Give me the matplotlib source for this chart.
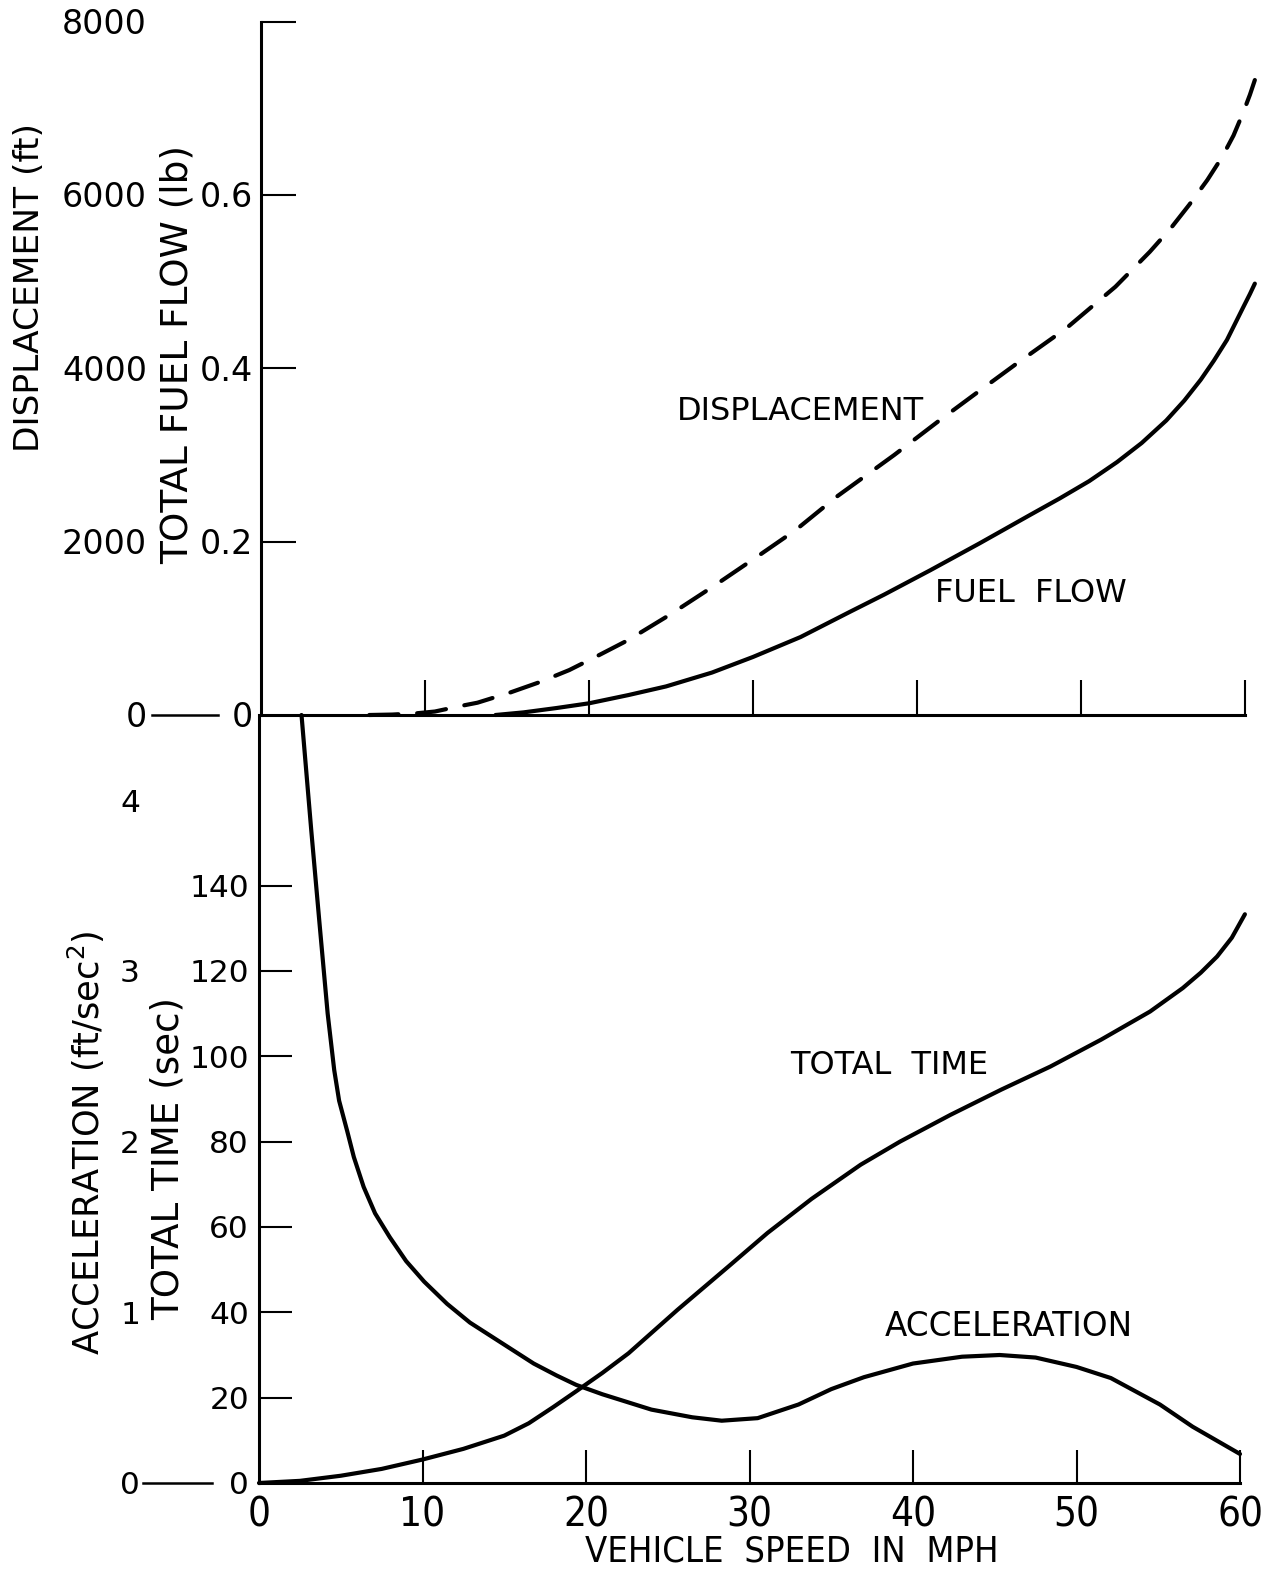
import matplotlib
matplotlib.use("Agg")
import matplotlib.pyplot as plt
from matplotlib import font_manager
from matplotlib.transforms import blended_transform_factory, offset_copy
from matplotlib.lines import Line2D

# ---------------- data ----------------
speed_ticks = [0, 10, 20, 30, 40, 50, 60]
speed_labels = ["0", "10", "20", "30", "40", "50", "60"]

disp_ticks = [0, 2000, 4000, 6000, 8000]
disp_labels = ["0", "2000", "4000", "6000", "8000"]
fuel_ticks = [0, 0.2, 0.4, 0.6]
fuel_labels = ["0", "0.2", "0.4", "0.6"]
time_ticks = [0, 20, 40, 60, 80, 100, 120, 140]
time_labels = ["0", "20", "40", "60", "80", "100", "120", "140"]
accel_ticks = [0, 1, 2, 3, 4]
accel_labels = ["0", "1", "2", "3", "4"]

# displacement (ft) vs vehicle speed (mph)
disp_speed = [6.6, 8.0, 9.5, 10.6, 12.2, 13.2, 15.2, 17.0, 18.8, 20.6, 22.4, 24.9,
              27.7, 30.4, 32.6, 35.1, 38.6, 41.4, 43.6, 46.1, 49.1, 52.1, 54.2,
              55.5, 56.6, 57.7, 58.6, 59.3, 59.9, 60.3, 60.6]
disp_ft = [0, 5, 20, 40, 105, 142, 260, 380, 519, 690, 866, 1154,
           1500, 1847, 2135, 2520, 3000, 3405, 3713, 4060, 4464, 4944, 5348,
           5625, 5890, 6175, 6440, 6690, 6960, 7160, 7330]

# total fuel flow (lb)
fuel_speed = [14.3, 16.0, 18.0, 20.0, 22.4, 24.7, 27.5, 30.0, 32.9, 35.9, 38.0,
              40.8, 43.8, 46.9, 48.7, 50.5, 52.2, 53.7, 55.2, 56.3, 57.3, 58.1,
              58.9, 59.4, 59.9, 60.3, 60.6]
fuel_lb = [0.0, 0.003, 0.008, 0.0135, 0.023, 0.033, 0.049, 0.067, 0.090, 0.119,
           0.139, 0.167, 0.198, 0.231, 0.250, 0.270, 0.292, 0.314, 0.340, 0.363,
           0.387, 0.409, 0.433, 0.452, 0.471, 0.486, 0.498]

# total time (sec)
time_speed = [0, 2.5, 5, 7.5, 10, 12.5, 15, 16.5, 18, 19.4, 21, 22.6, 25.6, 28.7,
              31.1, 33.8, 36.8, 39.2, 42.3, 45.4, 48.4, 51.5, 54.5, 56.5, 57.6,
              58.6, 59.5, 60.3]
time_sec = [0, 0.5, 1.7, 3.3, 5.5, 8.0, 11.1, 14.0, 17.8, 21.5, 25.8, 30.4, 40.6,
            50.7, 58.6, 66.6, 74.6, 80.0, 86.3, 92.2, 97.6, 103.9, 110.5, 116.0,
            119.6, 123.4, 127.8, 133.3]

# acceleration (ft/sec^2)
accel_speed = [2.6, 3.2, 3.7, 4.2, 4.6, 4.9, 5.4, 5.8, 6.4, 7.1, 8.0, 9.0, 10.1,
               11.5, 12.9, 14.2, 15.5, 16.8, 18.2, 19.4, 21.0, 24.0, 26.5, 28.3,
               30.5, 33.0, 35.0, 37.0, 40.0, 43.0, 45.3, 47.5, 50.0, 52.1, 55.1,
               57.1, 60.0]
accel_fps2 = [4.5, 3.82, 3.28, 2.75, 2.42, 2.24, 2.06, 1.91, 1.735, 1.58, 1.44,
              1.30, 1.18, 1.05, 0.94, 0.86, 0.78, 0.70, 0.63, 0.575, 0.52, 0.43,
              0.385, 0.365, 0.38, 0.46, 0.55, 0.62, 0.70, 0.74, 0.75, 0.735, 0.68,
              0.615, 0.46, 0.33, 0.17]

# ---------------- fonts ----------------
plt.rcParams["font.family"] = ["DejaVu Sans"]
plt.rcParams["mathtext.fontset"] = "dejavusans"

NARROW_KW = {"fontfamily": "DejaVu Sans"}
_fonts = font_manager.fontManager.ttflist
if any(f.name == "DejaVu Sans" and f.stretch == "condensed" for f in _fonts):
    NARROW_KW = {"fontfamily": "DejaVu Sans", "fontstretch": "condensed"}
    NARROW = True
elif any(f.name == "Liberation Sans Narrow" for f in _fonts):
    NARROW_KW = {"fontfamily": "Liberation Sans Narrow"}
    NARROW = True
else:
    NARROW = False

W, H = 1279, 1575
INK = "black"
CAP = 0.729 * 100 / 72  # cap height in pixels per point of font size


def fx(x):
    return x / W


def fy(y):
    return 1 - y / H


fig = plt.figure(figsize=(W / 100, H / 100), dpi=100)
fig.patch.set_facecolor("white")


def label(x, yc, s, size, **kw):
    """Text whose capitals are centred on pixel row yc."""
    rot = kw.pop("rotation", 0)
    if rot:
        fig.text(fx(x), fy(yc), s, rotation=rot, ha="center", va="center",
                 fontsize=size, rotation_mode="anchor", **kw)
    else:
        fig.text(fx(x), fy(yc + 0.5 * CAP * size), s, va="baseline",
                 fontsize=size, **kw)


def value_labels(trans, xpix, values, texts, size, ha):
    tr = offset_copy(trans, fig=fig, y=-0.5 * 0.729 * size, units="points")
    for v, s in zip(values, texts):
        fig.text(fx(xpix), v, s, transform=tr, ha=ha, va="baseline", fontsize=size)


# ---------------- upper panel: displacement / fuel flow ----------------
top_x0, top_scale, xmax = 261, 16.4, 61.5
ax = fig.add_axes([fx(top_x0), fy(715), xmax * top_scale / W, (715 - 22) / H])
ax.set_xlim(0, xmax)
ax.set_ylim(0, 8000)
ax.patch.set_alpha(0)
for s in ("top", "right"):
    ax.spines[s].set_visible(False)
ax.spines["left"].set_bounds(0, 8000)
ax.spines["bottom"].set_bounds(0, 60)
for s in ("left", "bottom"):
    ax.spines[s].set_linewidth(2.2)
ax.set_xticks(speed_ticks[1:])
ax.set_yticks(disp_ticks[1:])
ax.tick_params(axis="both", direction="in", length=25, width=1.5,
               labelbottom=False, labelleft=False)

ax_f = ax.twinx()
ax_f.set_ylim(0, 0.8)
ax_f.set_xlim(0, xmax)
for s in ax_f.spines.values():
    s.set_visible(False)
ax_f.set_yticks([])

ax.plot(disp_speed, disp_ft, color=INK, lw=3.0, linestyle=(0, (7, 4.5)),
        dash_capstyle="round", clip_on=False)
ax_f.plot(fuel_speed, fuel_lb, color=INK, lw=3.0, solid_capstyle="round",
          solid_joinstyle="round", clip_on=False)

tr_d = blended_transform_factory(fig.transFigure, ax.transData)
tr_f = blended_transform_factory(fig.transFigure, ax_f.transData)
value_labels(tr_d, 147, disp_ticks, disp_labels, 24, "right")
value_labels(tr_f, 253, fuel_ticks, fuel_labels, 24, "right")
fig.add_artist(Line2D([fx(152), fx(218)], [0, 0], transform=tr_d, color=INK, lw=1.8))

label(30, 288, "DISPLACEMENT (ft)", 24.8, rotation=90)
label(178, 354, "TOTAL FUEL FLOW (lb)", 27, rotation=90)
label(677, 408, "DISPLACEMENT", 23, ha="left")
label(935, 590, "FUEL  FLOW", 23, ha="left")

# ---------------- lower panel: total time / acceleration ----------------
bot_x0 = 259
bot_scale = (1240 - bot_x0) / 60
ax2 = fig.add_axes([fx(bot_x0), fy(1483), xmax * bot_scale / W, (1483 - 715) / H])
ax2.set_xlim(0, xmax)
ax2.set_ylim(0, 180)
ax2.patch.set_alpha(0)
for s in ("top", "right"):
    ax2.spines[s].set_visible(False)
ax2.spines["left"].set_bounds(0, 180)
ax2.spines["bottom"].set_bounds(0, 60)
for s in ("left", "bottom"):
    ax2.spines[s].set_linewidth(2.2)
ax2.set_xticks(speed_ticks)
ax2.xaxis.get_major_ticks()[0].tick1line.set_visible(False)
ax2.set_yticks(time_ticks[1:])
ax2.tick_params(axis="both", direction="in", length=24, width=1.5,
                labelleft=False, labelbottom=False)

ax_a = ax2.twinx()
ax_a.set_ylim(0, 4.5)
ax_a.set_xlim(0, xmax)
for s in ax_a.spines.values():
    s.set_visible(False)
ax_a.set_yticks([])

ax2.plot(time_speed, time_sec, color=INK, lw=3.0, solid_capstyle="round",
         solid_joinstyle="round", clip_on=False)
ax_a.plot(accel_speed, accel_fps2, color=INK, lw=3.0, solid_capstyle="round",
          solid_joinstyle="round", clip_on=False)

tr_t = blended_transform_factory(fig.transFigure, ax2.transData)
tr_a = blended_transform_factory(fig.transFigure, ax_a.transData)
value_labels(tr_t, 249, time_ticks, time_labels, 22.5, "right")
value_labels(tr_a, 130, accel_ticks, accel_labels, 22.5, "center")
fig.add_artist(Line2D([fx(143), fx(212)], [0, 0], transform=tr_t, color=INK, lw=1.8))

# speed tick labels under the lower axis
xsize = 29 if NARROW else 24
tr_x = blended_transform_factory(ax2.transData, fig.transFigure)
for v, s in zip(speed_ticks, speed_labels):
    fig.text(v, fy(1512 + 0.5 * CAP * xsize), s, transform=tr_x, ha="center",
             va="baseline", fontsize=xsize, **NARROW_KW)

label(86, 1143, r"ACCELERATION (ft/sec$^2$)", 25.4, rotation=90)
label(168, 1159, "TOTAL TIME (sec)", 26.8, rotation=90)
label(790, 1062, "TOTAL  TIME", 23, ha="left")
label(885, 1324, "ACCELERATION", 23.5, ha="left")
label(792, 1548, "VEHICLE  SPEED  IN  MPH", 26 if NARROW else 24, ha="center",
      **NARROW_KW)

fig.savefig("out.png", dpi=100, facecolor="white")
